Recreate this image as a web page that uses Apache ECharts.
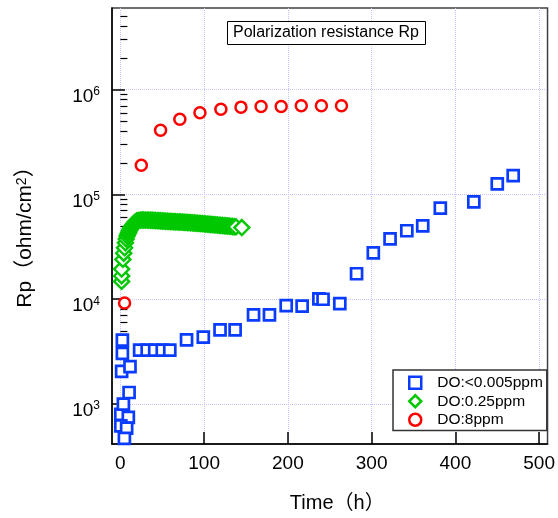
<!DOCTYPE html>
<html>
<head>
<meta charset="utf-8">
<script src="https://cdn.jsdelivr.net/npm/echarts@6/dist/echarts.min.js"></script>
<style>
  html, body { margin: 0; padding: 0; background: #fff; }
  #chart { width: 558px; height: 518px; }
</style>
</head>
<body>
<div id="chart"></div>
<script>
// 时间(h) 和 Rp 值
var blueData = [
  [2.4, 4080], [2.4, 3050], [1.5, 2050], [11.5, 2280], [10.4, 1290], [0.5, 800],
  [3.6, 1000], [9.5, 745], [0.5, 620], [7.5, 590], [4.8, 470],
  [23, 3270], [32, 3270], [41, 3270], [50, 3270], [59, 3270],
  [79, 4100], [99, 4350], [119, 5100], [137, 5100], [159, 7100], [178, 7100],
  [198, 8700], [217, 8600], [237, 10100], [242, 10000], [262, 9100], [282, 17500],
  [302, 27700], [322, 37700], [342, 45000], [361, 50000], [382, 74000], [422, 85000],
  [450, 126000], [469, 151000]
]
var greenData = [
  [1.5, 14800], [1.5, 16700], [1.5, 19400], [3, 24000], [4, 27500], [5, 31000],
  [6, 34500], [7, 37500], [8, 40000], [9, 42000], [10, 43500], [11, 45500],
  [12, 47000], [13, 48500], [14, 50000], [15, 51200], [16, 52500], [17, 53500],
  [18, 54500], [19, 55200], [20, 56000], [22, 56500], [24, 56800], [26, 57000],
  [28, 57000], [30, 56900], [32, 56800], [34, 56800], [36, 56700], [38, 56600],
  [40, 56500], [42, 56400], [44, 56200], [46, 56100], [48, 56000], [50, 55800],
  [52, 55700], [54, 55500], [56, 55400], [58, 55300], [60, 55200], [62, 55000],
  [64, 54900], [66, 54800], [68, 54700], [70, 54600], [72, 54500], [74, 54400],
  [76, 54300], [78, 54100], [80, 54000], [82, 53800], [84, 53700], [86, 53500],
  [88, 53400], [90, 53200], [92, 53000], [94, 52900], [96, 52700], [98, 52600],
  [100, 52400], [102, 52200], [104, 52000], [106, 51900], [108, 51700], [110, 51500],
  [112, 51300], [114, 51200], [116, 51000], [118, 50800], [120, 50700], [122, 50500],
  [124, 50300], [126, 50100], [128, 50000], [130, 49800], [132, 49600], [134, 49400],
  [136, 49200], [138, 49000], [145, 48300]
]
var redData = [
  [5, 9200], [25, 190000], [48, 410000], [71, 520000], [95, 600000], [120, 650000],
  [144, 680000], [168, 690000], [192, 690000], [216, 700000], [240, 700000], [264, 700000]
]
var seriesNames = ['DO:<0.005ppm', 'DO:0.25ppm', 'DO:8ppm']
var xTicks = [0, 100, 200, 300, 400, 500]
var yMajor = [1e3, 1e4, 1e5, 1e6]
var yMinor = [500, 600, 700, 800, 900,
  2e3, 3e3, 4e3, 5e3, 6e3, 7e3, 8e3, 9e3,
  2e4, 3e4, 4e4, 5e4, 6e4, 7e4, 8e4, 9e4,
  2e5, 3e5, 4e5, 5e5, 6e5, 7e5, 8e5, 9e5,
  2e6, 3e6, 4e6, 5e6]

var font = '"Liberation Sans", "Noto Sans CJK JP", sans-serif'
var blue = '#0a3cff'
var green = '#00c800'
var red = '#ff0000'

var myChart = echarts.init(document.getElementById('chart'))
myChart.setOption({
  animation: false,
  backgroundColor: '#fff',
  textStyle: { fontFamily: font, color: '#000' },
  title: {
    text: 'Polarization resistance Rp',
    left: 227,
    top: 21,
    padding: [4, 7, 4, 6],
    borderColor: '#000',
    borderWidth: 1,
    backgroundColor: '#fff',
    textStyle: { fontFamily: font, fontSize: 16, fontWeight: 'normal', color: '#000' }
  },
  legend: {
    orient: 'vertical',
    left: 393,
    top: 370,
    padding: [5, 4, 3, 15],
    itemGap: 3,
    itemWidth: 12,
    itemHeight: 12,
    borderColor: '#333',
    borderWidth: 1.5,
    backgroundColor: '#fff',
    textStyle: { fontFamily: font, fontSize: 15.5, color: '#000', padding: [0, 0, 0, 11] },
    data: [
      { name: seriesNames[0], icon: 'rect', itemStyle: { color: '#fff', borderColor: blue, borderWidth: 2.5 } },
      { name: seriesNames[1], icon: 'diamond', itemStyle: { color: '#fff', borderColor: green, borderWidth: 2.5 } },
      { name: seriesNames[2], icon: 'circle', itemStyle: { color: '#fff', borderColor: red, borderWidth: 2.5 } }
    ]
  },
  grid: {
    left: 112,
    right: 9,
    top: 8,
    bottom: 73,
    show: true,
    borderColor: '#404040',
    borderWidth: 1.5
  },
  xAxis: {
    type: 'value',
    min: -10,
    max: 510,
    name: 'Time（h）',
    nameLocation: 'middle',
    nameGap: 49,
    nameTextStyle: { fontFamily: font, fontSize: 20, color: '#000', padding: [0, 0, 0, 15] },
    axisLine: { show: true, onZero: false, lineStyle: { color: '#000', width: 1.5 } },
    axisTick: { show: true, inside: true, length: 12, customValues: xTicks, lineStyle: { color: '#000', width: 1.5 } },
    axisLabel: { customValues: xTicks, fontFamily: font, fontSize: 19, color: '#000', margin: 10 },
    splitLine: { show: true, lineStyle: { color: '#c4c4ff', type: 'dotted', width: 1 } }
  },
  yAxis: [
    {
      type: 'log',
      logBase: 10,
      min: 416,
      max: 6.0e6,
      name: 'Rp（ohm/cm{s|2}）',
      nameLocation: 'middle',
      nameGap: 76,
      nameRotate: 90,
      nameTextStyle: {
        fontFamily: font, fontSize: 21, color: '#000', padding: [0, 12, 0, 0],
        rich: { s: { fontFamily: font, fontSize: 14, verticalAlign: 'top', lineHeight: 14 } }
      },
      axisLine: { show: true, onZero: false, lineStyle: { color: '#000', width: 1.5 } },
      axisTick: { show: true, inside: true, length: 13, customValues: yMajor, lineStyle: { color: '#000', width: 1.5 } },
      axisLabel: {
        customValues: yMajor,
        margin: 12,
        padding: [11, 0, 0, 0],
        formatter: function (v) {
          return '{b|10}{s|' + Math.round(Math.log10(v)) + '}'
        },
        rich: {
          b: { fontFamily: font, fontSize: 19, lineHeight: 19, padding: [3, 0, 0, 0], color: '#000' },
          s: { fontFamily: font, fontSize: 12, lineHeight: 12, verticalAlign: 'top', color: '#000' }
        }
      },
      splitLine: { show: true, lineStyle: { color: '#c4c4ff', type: 'dotted', width: 1 } }
    },
    {
      // 次刻度
      type: 'log',
      logBase: 10,
      min: 416,
      max: 6.0e6,
      position: 'left',
      axisLine: { show: false },
      axisTick: { show: true, inside: true, length: 7, customValues: yMinor, lineStyle: { color: '#000', width: 1.2 } },
      axisLabel: { show: false },
      splitLine: { show: false }
    }
  ],
  series: [
    {
      name: seriesNames[0],
      type: 'scatter',
      data: blueData,
      symbol: 'rect',
      symbolSize: 11,
      itemStyle: { color: '#fff', borderColor: blue, borderWidth: 2.7, opacity: 1 }
    },
    {
      name: seriesNames[1],
      type: 'scatter',
      data: greenData,
      symbol: 'diamond',
      symbolSize: 15,
      itemStyle: { color: '#fff', borderColor: green, borderWidth: 2.4, opacity: 1 }
    },
    {
      name: seriesNames[2],
      type: 'scatter',
      data: redData,
      symbol: 'circle',
      symbolSize: 11,
      itemStyle: { color: '#fff', borderColor: red, borderWidth: 2.5, opacity: 1 }
    }
  ]
})
</script>
</body>
</html>
